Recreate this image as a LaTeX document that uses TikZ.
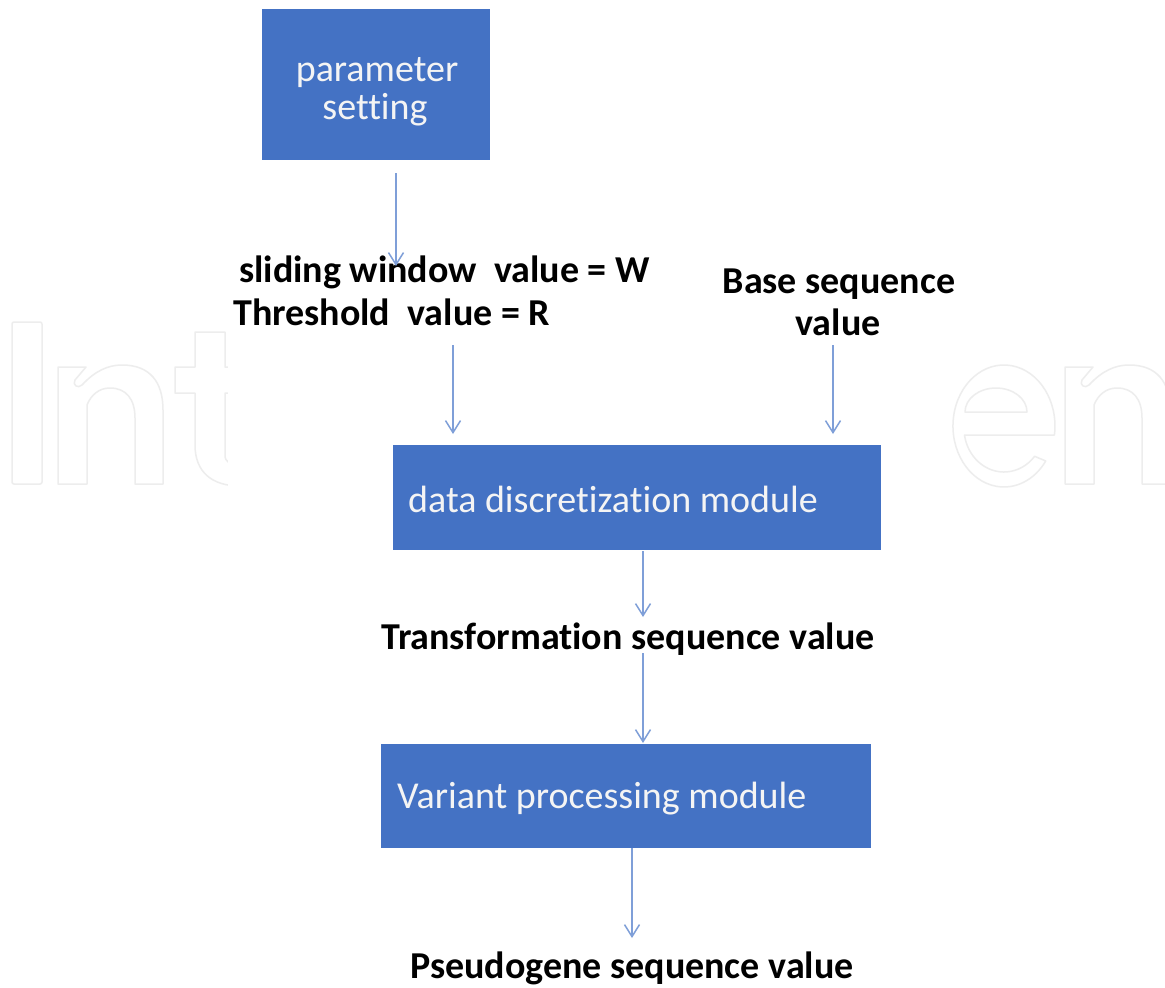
\documentclass[tikz,border=0pt]{standalone}
\usepackage{fontspec}
\setmainfont{Carlito}[Ligatures=NoCommon]
\usetikzlibrary{arrows.meta}
\definecolor{boxblue}{HTML}{4472C4}
\definecolor{arrowblue}{HTML}{7F9FD8}
\definecolor{wmgray}{HTML}{EDEDED}
\definecolor{boxtxt}{HTML}{F4F4F4}
\begin{document}
\begin{tikzpicture}[x=1pt,y=-1pt,
  box/.style={rectangle, fill=boxblue, draw=none, inner sep=0pt},
  boxlabel/.style={text=boxtxt, font=\fontsize{38}{38}\selectfont, inner sep=0pt},
  txtlabel/.style={text=black, font=\fontsize{38}{38}\selectfont\bfseries, inner sep=0pt},
  arr/.style={draw=arrowblue, line width=1.5pt, -{Straight Barb[length=12pt,width=15pt]}},
  wm/.style={draw=wmgray, line width=1.5pt, line join=round}]
\useasboundingbox (0,0) rectangle (1165,988);
\fill[white] (0,0) rectangle (1165,988);
% ---- watermark (faint outlined letters) ----
\draw[wm, rounded corners=2pt] (12,322) rectangle (42,484);
\def\wmn{(58,484) -- (58,367) -- (86,367) -- (75,380) .. controls (72,385) and (78,389) .. (82,385)
  .. controls (95,371) and (108,365) .. (122,365) .. controls (150,365) and (163,382) .. (163,410)
  -- (163,484) -- (135,484) -- (135,418) .. controls (135,399) and (126,388) .. (110,388)
  .. controls (99,388) and (91,395) .. (87,405) -- (87,484) -- cycle}
\draw[wm] \wmn;
\draw[wm, shift={(1007pt,0pt)}] \wmn;
\draw[wm] (250,367) -- (225,367) -- (225,332) -- (195,332) -- (195,367) -- (175,367) -- (175,393)
  -- (195,393) -- (195,445) .. controls (195,472) and (212,486) .. (240,486);
\draw[wm] (240,393) -- (225,393) -- (225,455) .. controls (225,462) and (230,465) .. (240,465);
\draw[wm] (1054.4,435) arc[start angle=8.5, end angle=-325, x radius=51, y radius=61]
  -- (1034.6,456.3) arc[start angle=40, end angle=170.8, x radius=40, y radius=44] -- cycle;
\draw[wm] (965,412) -- (1027,412) arc[start angle=0, end angle=-180, x radius=31, y radius=24] -- cycle;
\fill[white] (228,300) rectangle (950,500);
% ---- boxes ----
\node[box, minimum width=228pt, minimum height=151pt] (ps) at (376,84.5) {};
\node[boxlabel, anchor=base] (ps1) at (377,81) {parameter};
\node[boxlabel, anchor=base] (ps2) at (375,119) {setting};
\node[box, minimum width=488pt, minimum height=105pt] (dd) at (636.5,497.5) {};
\node[boxlabel, anchor=base west] (ddt) at (408,512) {data discretization module};
\node[box, minimum width=490pt, minimum height=104pt] (vp) at (625.5,796) {};
\node[boxlabel, anchor=base west] (vpt) at (397,808) {Variant processing module};
% ---- labels ----
\node[txtlabel, anchor=base west] (sw) at (239,282) {sliding window\ \ value = W};
\node[txtlabel, anchor=base west] (th) at (233,325) {Threshold\ \ value = R};
\node[txtlabel, anchor=base] (bs1) at (839,293) {Base sequence};
\node[txtlabel, anchor=base] (bs2) at (838,335) {value};
\node[txtlabel, anchor=base west] (ts) at (381,649) {Transformation sequence value};
\node[txtlabel, anchor=base west] (pg) at (410,978) {Pseudogene sequence value};
% ---- connector end points ----
\coordinate (a1s) at (396,173);  \coordinate (a1e) at (396,266);
\coordinate (a2s) at (453,345);  \coordinate (a2e) at (453,434);
\coordinate (a3s) at (833,345);  \coordinate (a3e) at (833,434);
\coordinate (a4s) at (643,551);  \coordinate (a4e) at (643,617);
\coordinate (a5s) at (643,653);  \coordinate (a5e) at (643,743);
\coordinate (a6s) at (632,848);  \coordinate (a6e) at (632,938);
\draw[arr] (a1s) -- (a1e);
\draw[arr] (a2s) -- (a2e);
\draw[arr] (a3s) -- (a3e);
\draw[arr] (a4s) -- (a4e);
\draw[arr] (a5s) -- (a5e);
\draw[arr] (a6s) -- (a6e);
\end{tikzpicture}
\end{document}
